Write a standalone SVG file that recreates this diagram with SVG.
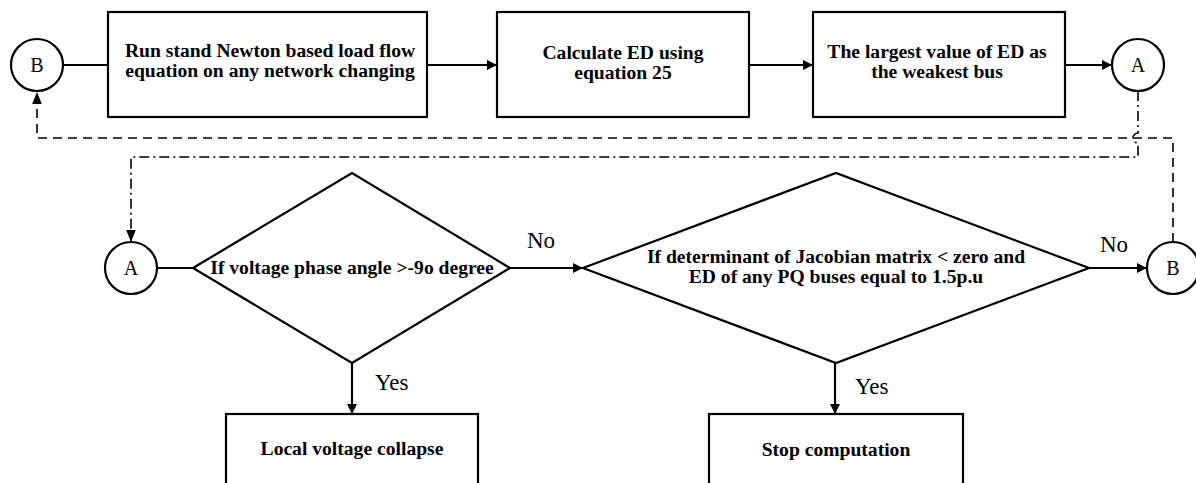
<svg xmlns="http://www.w3.org/2000/svg" width="1196" height="483" viewBox="0 0 1196 483">
<defs>
<style>
.box{fill:#fff;stroke:#000;stroke-width:2.2}
.conn{fill:none;stroke:#000;stroke-width:2.2}
.dash{fill:none;stroke:#000;stroke-width:1.6;stroke-dasharray:9 6}
.dashdot{fill:none;stroke:#000;stroke-width:1.6;stroke-dasharray:10 4 2 4}
.t{font-family:"Liberation Serif","Times New Roman",serif;font-weight:bold;font-size:19.6px;fill:#000;text-anchor:middle}
.lbl{font-family:"Liberation Serif","Times New Roman",serif;font-size:23px;fill:#000}
.cl{font-family:"Liberation Serif","Times New Roman",serif;font-size:20px;fill:#000;text-anchor:middle}
</style>
<marker id="arr" viewBox="0 0 10 10" refX="10" refY="5" markerWidth="10" markerHeight="10" markerUnits="userSpaceOnUse" orient="auto">
<path d="M0,0 L10,5 L0,10 z" fill="#000"/>
</marker>
<marker id="arr2" viewBox="0 0 10 10" refX="10" refY="5" markerWidth="12" markerHeight="12" markerUnits="userSpaceOnUse" orient="auto">
<path d="M0,1 L10,5 L0,9 z" fill="#000"/>
</marker>
</defs>
<rect width="1196" height="483" fill="#fff"/>
<g id="connectors">
<line class="conn" x1="63" y1="65" x2="108" y2="65"/>
<line class="conn" x1="427" y1="65" x2="497" y2="65" marker-end="url(#arr)"/>
<line class="conn" x1="749" y1="65" x2="813" y2="65" marker-end="url(#arr)"/>
<line class="conn" x1="1065" y1="65" x2="1112" y2="65" marker-end="url(#arr)"/>
<path class="dash" d="M1173,242 L1173,138 L37,138 L37,92" marker-end="url(#arr2)"/>
<path class="dashdot" d="M1138,91 L1138,133 A5,5 0 0 0 1138,143 L1138,157 L131,157 L131,242" marker-end="url(#arr2)"/>
<line class="conn" x1="157" y1="268" x2="193" y2="268"/>
<line class="conn" x1="510" y1="268" x2="583" y2="268" marker-end="url(#arr)"/>
<line class="conn" x1="1089" y1="268" x2="1147" y2="268" marker-end="url(#arr)"/>
<line class="conn" x1="352" y1="363" x2="352" y2="414" marker-end="url(#arr)"/>
<line class="conn" x1="835" y1="363" x2="835" y2="414" marker-end="url(#arr)"/>
<text class="lbl" x="527" y="248">No</text>
<text class="lbl" x="1100" y="252">No</text>
<text class="lbl" x="375" y="390">Yes</text>
<text class="lbl" x="855" y="394">Yes</text>
</g>
<g id="nodeB1">
<circle class="box" cx="37" cy="65" r="26"/>
<text class="cl" x="37" y="72">B</text>
</g>
<g id="box1">
<rect class="box" x="108" y="12" width="319" height="105"/>
<text class="t" x="270" y="57">Run stand Newton based load flow</text>
<text class="t" x="270" y="77">equation on any network changing</text>
</g>
<g id="box2">
<rect class="box" x="497" y="12" width="252" height="105"/>
<text class="t" x="623" y="59">Calculate ED using</text>
<text class="t" x="623" y="79">equation 25</text>
</g>
<g id="box3">
<rect class="box" x="813" y="12" width="252" height="105"/>
<text class="t" x="937" y="58">The largest value of ED as</text>
<text class="t" x="937" y="78">the weakest bus</text>
</g>
<g id="nodeA1">
<circle class="box" cx="1138" cy="65" r="26"/>
<text class="cl" x="1138" y="72">A</text>
</g>
<g id="nodeA2">
<circle class="box" cx="131" cy="268" r="26"/>
<text class="cl" x="131" y="275">A</text>
</g>
<g id="dec1">
<polygon class="box" points="193,268 352,173 510,268 352,363"/>
<text class="t" x="352" y="274">If voltage phase angle &gt;-9o degree</text>
</g>
<g id="dec2">
<polygon class="box" points="583,268 836,173 1089,268 836,363"/>
<text class="t" x="836" y="263">If determinant of Jacobian matrix &lt; zero and</text>
<text class="t" x="836" y="283">ED of any PQ buses equal to 1.5p.u</text>
</g>
<g id="nodeB2">
<circle class="box" cx="1173" cy="268" r="26"/>
<text class="cl" x="1173" y="275">B</text>
</g>
<g id="box4">
<rect class="box" x="226" y="414" width="252" height="80"/>
<text class="t" x="352" y="455">Local voltage collapse</text>
</g>
<g id="box5">
<rect class="box" x="709" y="414" width="254" height="80"/>
<text class="t" x="836" y="456">Stop computation</text>
</g>
</svg>
